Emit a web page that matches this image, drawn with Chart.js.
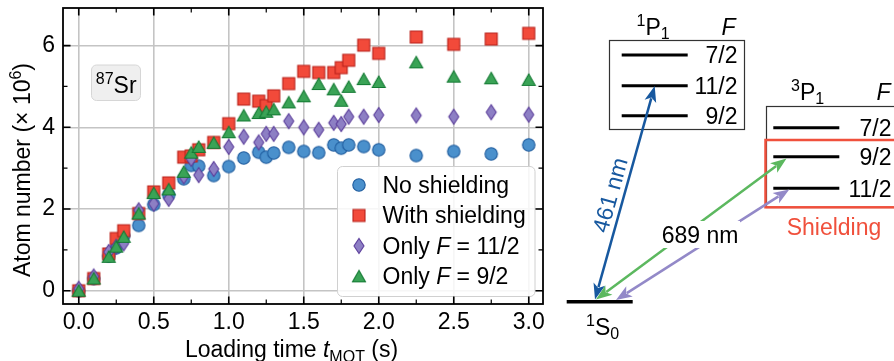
<!DOCTYPE html>
<html>
<head>
<meta charset="utf-8">
<script src="https://cdn.jsdelivr.net/npm/chart.js@4.4.1/dist/chart.umd.min.js"></script>
<style>
  html, body { margin: 0; padding: 0; background: #fff; }
</style>
</head>
<body>
<canvas id="c" width="894" height="361"></canvas>
<script>
// loading time (s)
const times = [0, 0.1, 0.2, 0.25, 0.3, 0.4, 0.5, 0.6, 0.7, 0.75, 0.8, 0.9, 1.0, 1.1, 1.2, 1.25, 1.3,
  1.4, 1.5, 1.6, 1.7, 1.75, 1.8, 1.9, 2.0, 2.25, 2.5, 2.75, 3.0];
// atom number (x 10^6)
const noShielding = [0.0, 0.30, 0.85, 1.05, 1.35, 1.60, 2.11, 2.35, 2.74, 3.07, 3.05, 2.82, 3.04, 3.25,
  3.39, 3.27, 3.37, 3.51, 3.41, 3.38, 3.57, 3.49, 3.57, 3.53, 3.45, 3.31, 3.41, 3.35, 3.57];
const withShielding = [0.0, 0.30, 0.90, 1.28, 1.47, 1.89, 2.42, 2.64, 3.27, 3.30, 3.45, 3.63, 4.09, 4.69,
  4.64, 4.53, 4.77, 5.07, 5.37, 5.34, 5.34, 5.46, 5.64, 6.01, 5.81, 6.21, 6.03, 6.16, 6.30];
const onlyF112 = [0.05, 0.35, 0.95, 1.08, 1.16, 1.97, 2.13, 2.25, 2.80, 3.23, 2.83, 2.98, 3.52, 3.77,
  3.63, 3.84, 3.84, 4.15, 4.00, 3.94, 4.11, 4.08, 4.26, 4.26, 4.30, 4.29, 4.26, 4.37, 4.31];
const onlyF92 = [0.0, 0.30, 0.83, 1.08, 1.32, 1.89, 2.39, 2.48, 2.91, 3.38, 3.52, 3.62, 3.88, 4.29,
  4.35, 4.38, 4.44, 4.61, 4.76, 5.06, 4.93, 4.65, 4.99, 5.18, 5.11, 5.59, 5.24, 5.20, 5.16];

const xTicks = [0, 0.5, 1.0, 1.5, 2.0, 2.5, 3.0];
const yTicks = [0, 2, 4, 6];
const xMinor = [0.25, 0.75, 1.25, 1.75, 2.25, 2.75];
const yMinor = [1, 3, 5];

const FONT = '"Liberation Sans", Arial, Helvetica, sans-serif';
const FS = 23, SS = 16;

// marker images (shared by plot and legend)
function marker(shape, fill, edge) {
  const cv = document.createElement('canvas');
  cv.width = 20; cv.height = 20;
  const g = cv.getContext('2d');
  g.fillStyle = fill; g.strokeStyle = edge; g.lineWidth = 1.1;
  g.beginPath();
  if (shape === 'circle') {
    g.arc(10, 10, 6.2, 0, Math.PI * 2);
  } else if (shape === 'square') {
    g.rect(4, 4, 12, 12);
  } else if (shape === 'diamond') {
    g.moveTo(10, 2.5); g.lineTo(15, 10); g.lineTo(10, 17.5); g.lineTo(5, 10); g.closePath();
  } else {
    g.moveTo(10, 4); g.lineTo(16.5, 15.5); g.lineTo(3.5, 15.5); g.closePath();
  }
  g.fill(); g.stroke();
  return cv;
}

const series = [
  { label: 'No shielding', data: noShielding, img: marker('circle', '#4a90cc', '#1f5c9e'), order: 4 },
  { label: 'With shielding', data: withShielding, img: marker('square', '#f24a3a', '#b8211b'), order: 3 },
  { label: 'Only F = 11/2', data: onlyF112, img: marker('diamond', '#8d7fc4', '#5a3c9a'), order: 2 },
  { label: 'Only F = 9/2', data: onlyF92, img: marker('triangle', '#3aa356', '#137a33'), order: 1 }
];

function rich(ctx, x, y, parts, align) {
  let w = 0;
  parts.forEach(p => {
    ctx.font = (p.it ? 'italic ' : '') + p.s + 'px ' + FONT;
    p.w = ctx.measureText(p.t).width;
    w += p.w;
  });
  let cx = align === 'center' ? x - w / 2 : align === 'right' ? x - w : x;
  ctx.textAlign = 'left';
  ctx.textBaseline = 'alphabetic';
  parts.forEach(p => {
    ctx.font = (p.it ? 'italic ' : '') + p.s + 'px ' + FONT;
    ctx.fillText(p.t, cx, y + (p.dy || 0));
    cx += p.w;
  });
}

function dblArrow(ctx, x1, y1, x2, y2, color) {
  const a = Math.atan2(y2 - y1, x2 - x1), hl = 16, hw = 6;
  const ux = Math.cos(a), uy = Math.sin(a);
  ctx.strokeStyle = color; ctx.fillStyle = color; ctx.lineWidth = 2.5;
  ctx.beginPath();
  ctx.moveTo(x1 + ux * hl * 0.8, y1 + uy * hl * 0.8);
  ctx.lineTo(x2 - ux * hl * 0.8, y2 - uy * hl * 0.8);
  ctx.stroke();
  const head = (tx, ty, dx, dy) => {
    ctx.beginPath();
    ctx.moveTo(tx, ty);
    ctx.lineTo(tx - dx * hl - dy * hw, ty - dy * hl + dx * hw);
    ctx.lineTo(tx - dx * hl * 0.75, ty - dy * hl * 0.75);
    ctx.lineTo(tx - dx * hl + dy * hw, ty - dy * hl - dx * hw);
    ctx.closePath();
    ctx.fill();
  };
  head(x2, y2, ux, uy);
  head(x1, y1, -ux, -uy);
}

function level(ctx, x1, x2, y) {
  ctx.strokeStyle = '#000'; ctx.lineWidth = 3;
  ctx.beginPath(); ctx.moveTo(x1, y); ctx.lineTo(x2, y); ctx.stroke();
}

const framePlugin = {
  id: 'frame',
  afterDatasetsDraw(chart) {
    const ctx = chart.ctx, a = chart.chartArea;
    const sx = chart.scales.x, sy = chart.scales.y;
    ctx.save();

    // 87Sr tag
    ctx.beginPath();
    ctx.roundRect(91.5, 65, 49, 35.5, 5);
    ctx.fillStyle = '#efefef'; ctx.fill();
    ctx.strokeStyle = '#d6d6d6'; ctx.lineWidth = 1; ctx.stroke();
    ctx.fillStyle = '#000';
    rich(ctx, 116.2, 92.5, [{ t: '87', s: SS, dy: -9 }, { t: 'Sr', s: FS }], 'center');

    // legend
    ctx.beginPath();
    ctx.roundRect(337.5, 166.5, 197.5, 130, 5);
    ctx.fillStyle = 'rgba(255,255,255,0.85)'; ctx.fill();
    ctx.strokeStyle = '#d0d0d0'; ctx.lineWidth = 1; ctx.stroke();
    series.forEach((s, i) => {
      const ry = 185 + i * 30.45;
      ctx.drawImage(s.img, 359 - 10, ry - 10);
      ctx.fillStyle = '#000';
      if (i < 2) {
        rich(ctx, 382.5, ry + 8, [{ t: s.label, s: FS }], 'left');
      } else {
        rich(ctx, 382.5, ry + 8, [{ t: 'Only ', s: FS }, { t: 'F', s: FS, it: true },
          { t: s.label.slice(6), s: FS }], 'left');
      }
    });

    // ticks, inward on all four sides
    ctx.strokeStyle = '#000';
    const tick = (len, lw, xs, ys) => {
      ctx.lineWidth = lw;
      ctx.beginPath();
      xs.forEach(v => {
        const p = sx.getPixelForValue(v);
        ctx.moveTo(p, a.bottom); ctx.lineTo(p, a.bottom - len);
        ctx.moveTo(p, a.top); ctx.lineTo(p, a.top + len);
      });
      ys.forEach(v => {
        const p = sy.getPixelForValue(v);
        ctx.moveTo(a.left, p); ctx.lineTo(a.left + len, p);
        ctx.moveTo(a.right, p); ctx.lineTo(a.right - len, p);
      });
      ctx.stroke();
    };
    tick(7.5, 1.6, xTicks, yTicks);
    tick(4.5, 1.2, xMinor, yMinor);

    ctx.lineWidth = 1.8;
    ctx.strokeRect(a.left, a.top, a.right - a.left, a.bottom - a.top);

    // axis titles
    ctx.fillStyle = '#000';
    rich(ctx, 291.5, 357, [{ t: 'Loading time ', s: FS }, { t: 't', s: FS, it: true },
      { t: 'MOT', s: SS, dy: 5 }, { t: ' (s)', s: FS }], 'center');
    ctx.save();
    ctx.translate(21, 170);
    ctx.rotate(-Math.PI / 2);
    rich(ctx, 0, 8.5, [{ t: 'Atom number (\u00d7 10', s: FS }, { t: '6', s: SS, dy: -9 }, { t: ')', s: FS }], 'center');
    ctx.restore();

    ctx.restore();
  },
  afterDraw(chart) {
    // level scheme on the right
    const ctx = chart.ctx;
    ctx.save();

    ctx.strokeStyle = '#333'; ctx.lineWidth = 1.2;
    ctx.strokeRect(609.5, 40.5, 135, 89);
    ctx.strokeRect(766.5, 106.5, 200, 101);

    [55, 85.7, 115.7].forEach(y => level(ctx, 621.7, 687.7, y));
    [127.7, 156.7, 188.3].forEach(y => level(ctx, 773.3, 839.3, y));
    ctx.lineWidth = 3.5;
    ctx.beginPath(); ctx.moveTo(566.7, 301.7); ctx.lineTo(632.7, 301.7); ctx.stroke();

    ctx.fillStyle = '#000';
    rich(ctx, 737.5, 63.3, [{ t: '7/2', s: FS }], 'right');
    rich(ctx, 737.5, 94, [{ t: '11/2', s: FS }], 'right');
    rich(ctx, 737.5, 124, [{ t: '9/2', s: FS }], 'right');
    rich(ctx, 891.5, 136, [{ t: '7/2', s: FS }], 'right');
    rich(ctx, 891.5, 165, [{ t: '9/2', s: FS }], 'right');
    rich(ctx, 891.5, 196.6, [{ t: '11/2', s: FS }], 'right');

    rich(ctx, 636.5, 35, [{ t: '1', s: SS, dy: -9 }, { t: 'P', s: FS }, { t: '1', s: SS, dy: 4 }], 'left');
    rich(ctx, 721.5, 35, [{ t: 'F', s: FS, it: true }], 'left');
    rich(ctx, 791, 100, [{ t: '3', s: SS, dy: -9 }, { t: 'P', s: FS }, { t: '1', s: SS, dy: 4 }], 'left');
    rich(ctx, 876.5, 100, [{ t: 'F', s: FS, it: true }], 'left');
    rich(ctx, 586, 335, [{ t: '1', s: SS, dy: -9 }, { t: 'S', s: FS }, { t: '0', s: SS, dy: 4 }], 'left');

    // shielding box
    ctx.strokeStyle = '#f0503c'; ctx.lineWidth = 2.5;
    ctx.strokeRect(765.5, 140, 200, 67.3);
    ctx.fillStyle = '#f0503c';
    rich(ctx, 834, 235, [{ t: 'Shielding', s: FS }], 'center');

    // transitions
    dblArrow(ctx, 595, 299.5, 654.7, 86, '#17589f');
    dblArrow(ctx, 596, 299.5, 786.5, 158.5, '#5cb85f');
    dblArrow(ctx, 616, 300, 789.3, 189.5, '#9389c8');

    ctx.save();
    ctx.translate(610, 195);
    ctx.rotate(Math.atan2(-213.5, 59.7));
    ctx.fillStyle = '#17589f';
    rich(ctx, 0, 8, [{ t: '461 nm', s: FS }], 'center');
    ctx.restore();

    ctx.fillStyle = '#fff';
    ctx.fillRect(662, 221, 78, 27);
    ctx.fillStyle = '#000';
    rich(ctx, 700, 243, [{ t: '689 nm', s: FS }], 'center');

    ctx.restore();
  }
};

const tickFont = { family: FONT, size: FS };

new Chart(document.getElementById('c'), {
  type: 'scatter',
  data: {
    datasets: series.map(s => ({
      label: s.label,
      data: times.map((t, i) => ({ x: t, y: s.data[i] })),
      pointStyle: s.img,
      pointRadius: 7,
      order: s.order
    }))
  },
  options: {
    responsive: false,
    animation: false,
    events: [],
    layout: { padding: { left: 0, right: 351, top: 7, bottom: 0 } },
    plugins: { legend: { display: false }, tooltip: { enabled: false } },
    scales: {
      x: {
        type: 'linear',
        min: -0.105,
        max: 3.095,
        afterBuildTicks: s => { s.ticks = xTicks.map(v => ({ value: v })); },
        afterFit: s => { s.height = 57; s.paddingLeft = 0; s.paddingRight = 0; },
        grid: { color: '#c4c4c4', lineWidth: 1.6, drawTicks: false },
        border: { display: false },
        ticks: { padding: 5, color: '#000', font: tickFont, maxRotation: 0, autoSkip: false,
          callback: v => v.toFixed(1) }
      },
      y: {
        type: 'linear',
        min: -0.324,
        max: 6.92,
        afterBuildTicks: s => { s.ticks = yTicks.map(v => ({ value: v })); },
        afterFit: s => { s.width = 63; s.paddingTop = 0; s.paddingBottom = 0; },
        grid: { color: '#c4c4c4', lineWidth: 1.6, drawTicks: false },
        border: { display: false },
        ticks: { padding: 8, color: '#000', font: tickFont, callback: v => String(v) }
      }
    }
  },
  plugins: [framePlugin]
});
</script>
</body>
</html>
